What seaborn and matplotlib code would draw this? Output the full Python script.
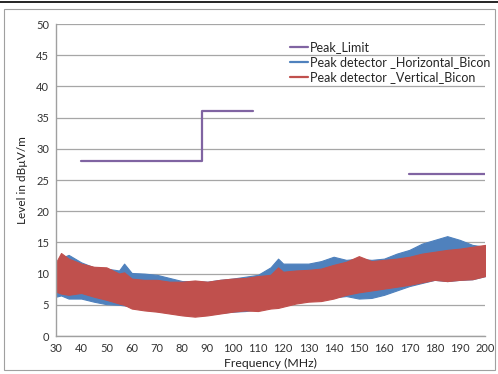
import numpy as np
import pandas as pd
import matplotlib
matplotlib.use("Agg")
import matplotlib.pyplot as plt
import seaborn as sns
from matplotlib.lines import Line2D
from matplotlib.patches import Rectangle

# limit line, three pieces (gap between 108 and 170 MHz)
limit_freq = [40, 88, 88, 108, 170, 200]
limit_level = [28, 28, 36, 36, 26, 26]
limit_segment = [0, 0, 0, 0, 1, 1]

# envelope of the noisy sweeps
freq = [30, 32, 35, 40, 45, 50, 55, 57, 60, 65, 70, 75, 80, 85, 90, 95, 100, 105, 110,
        115, 118, 120, 125, 130, 135, 140, 145, 150, 155, 160, 165, 170, 175, 180, 185,
        190, 195, 200]
horiz_upper = [11.5, 12.5, 13.0, 11.8, 11.0, 10.8, 10.5, 11.6, 10.1, 10.0, 9.8, 9.3, 8.8,
               8.8, 8.7, 9.0, 9.2, 9.5, 9.8, 11.0, 12.4, 11.6, 11.6, 11.6, 12.0, 12.7,
               12.2, 12.4, 12.2, 12.4, 13.2, 13.8, 14.8, 15.4, 16.0, 15.4, 14.6, 14.3]
horiz_lower = [6.3, 6.5, 6.0, 6.0, 5.5, 5.1, 5.0, 4.9, 4.7, 4.3, 4.0, 3.8, 3.5, 3.4, 3.5,
               3.7, 3.9, 4.0, 4.3, 4.8, 5.0, 5.2, 5.5, 5.8, 6.0, 6.2, 6.4, 6.0, 6.1, 6.6,
               7.3, 8.0, 8.5, 9.0, 8.8, 9.0, 9.1, 9.6]
vert_upper = [11.8, 13.3, 12.4, 11.6, 11.1, 11.0, 10.0, 10.2, 9.2, 9.0, 9.0, 8.7, 8.7,
              8.9, 8.7, 9.0, 9.2, 9.3, 9.6, 9.8, 11.0, 10.3, 10.5, 10.6, 10.8, 11.4, 11.9,
              12.8, 12.0, 12.2, 12.4, 12.7, 13.2, 13.5, 13.8, 14.0, 14.3, 14.6]
vert_lower = [7.1, 6.8, 6.6, 6.9, 6.3, 5.8, 5.2, 5.0, 4.4, 4.1, 3.9, 3.6, 3.3, 3.1, 3.3,
              3.6, 3.9, 4.1, 4.0, 4.4, 4.5, 4.7, 5.2, 5.5, 5.6, 6.0, 6.6, 7.0, 7.3, 7.6,
              7.9, 8.2, 8.6, 9.0, 8.8, 9.0, 9.1, 9.6]

x_ticks = list(range(30, 201, 10))
y_ticks = list(range(0, 51, 5))

purple = "#8064A2"
blue = "#4F81BD"
red = "#C0504D"
grid_grey = "#A6A6A6"

sns.set_style("white")
plt.rcParams["font.family"] = ["Lato", "DejaVu Sans"]

fig = plt.figure(figsize=(4.98, 3.74), dpi=100)
ax = fig.add_axes([0.1124, 0.1016, 0.8616, 0.8342])

ax.fill_between(freq, horiz_lower, horiz_upper, color=blue, linewidth=0.8, edgecolor=blue)
ax.fill_between(freq, vert_lower, vert_upper, color=red, linewidth=0.8, edgecolor=red)

limit_df = pd.DataFrame({"freq": limit_freq, "level": limit_level, "seg": limit_segment})
sns.lineplot(data=limit_df, x="freq", y="level", units="seg", estimator=None, sort=False,
             color=purple, linewidth=1.6, ax=ax)

ax.set_xlim(30, 200)
ax.set_ylim(0, 50)
ax.set_xticks(x_ticks)
ax.set_yticks(y_ticks)
ax.tick_params(axis="both", labelsize=8, length=0, pad=5, colors="#333333")
ax.yaxis.grid(True, color=grid_grey, linewidth=0.9)
ax.set_axisbelow(True)
for s in ["top", "right"]:
    ax.spines[s].set_visible(False)
for s in ["left", "bottom"]:
    ax.spines[s].set_color("#A0A0A0")
    ax.spines[s].set_linewidth(1.0)

ax.set_xlabel("Frequency (MHz)", fontsize=8.8, color="#222222", labelpad=3)
ax.set_ylabel("Level in dBµV/m", fontsize=8.5, color="#222222", labelpad=6)

handles = [Line2D([], [], color=purple, linewidth=1.6),
           Line2D([], [], color=blue, linewidth=1.6),
           Line2D([], [], color=red, linewidth=1.6)]
labels = ["Peak_Limit", "Peak detector _Horizontal_Bicon", "Peak detector _Vertical_Bicon"]
ax.legend(handles, labels, loc="upper left", bbox_to_anchor=(0.533, 0.96), frameon=False,
          fontsize=9.0, handlelength=1.5, handletextpad=0.15, labelspacing=0.22,
          borderaxespad=0)

# chart frame and page rule
fig.add_artist(Rectangle((4 / 498, 4 / 374), 491 / 498, 361 / 374, transform=fig.transFigure,
                         fill=False, edgecolor="#A0A0A0", linewidth=0.8))
fig.add_artist(Line2D([0, 1], [1 - 1.5 / 374, 1 - 1.5 / 374], transform=fig.transFigure,
                      color="black", linewidth=1.2))

fig.savefig("out.png", dpi=100)
